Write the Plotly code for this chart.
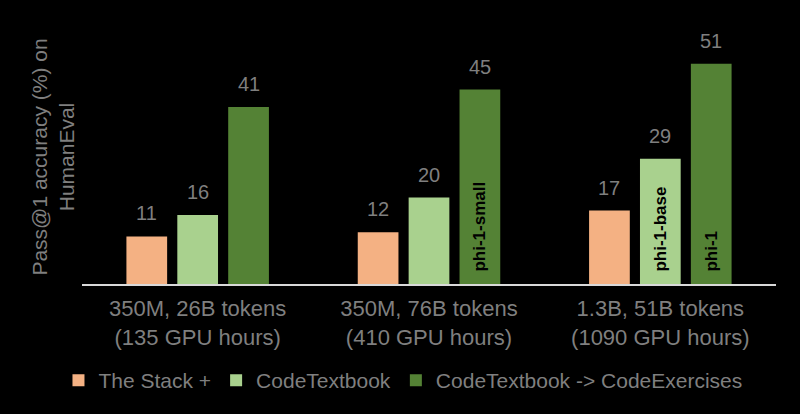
import plotly.graph_objects as go

# groups: model size / tokens (GPU hours)
groups = [
    "350M, 26B tokens<br>(135 GPU hours)",
    "350M, 76B tokens<br>(410 GPU hours)",
    "1.3B, 51B tokens<br>(1090 GPU hours)",
]
series_names = ["The Stack +", "CodeTextbook", "CodeTextbook -> CodeExercises"]
stack_vals = [11, 12, 17]
textbook_vals = [16, 20, 29]
exercises_vals = [41, 45, 51]
textbook_tags = ["", "", "phi-1-base"]
exercises_tags = ["", "phi-1-small", "phi-1"]

colors = ["#F4B183", "#A9D18E", "#548235"]
grey = "#7F7F7F"
font = "Liberation Sans, Arial, sans-serif"
bargap = 0.34

fig = go.Figure()
all_vals = [stack_vals, textbook_vals, exercises_vals]
all_tags = [["", "", ""], textbook_tags, exercises_tags]
for name, vals, tags, col in zip(series_names, all_vals, all_tags, colors):
    fig.add_trace(go.Bar(
        name=name, x=groups, y=vals, marker_color=col, marker_line_width=0,
        # leading nbsp pushes the rotated tag up off the axis
        text=["\u00a0\u00a0" + t if t else "" for t in tags],
        textposition="inside", insidetextanchor="start", textangle=-90,
        textfont=dict(family=font, size=17, color="black", weight="bold"),
        constraintext="none", hoverinfo="skip",
    ))

# value labels above each bar
slot = (1 - bargap) / 3
for j, vals in enumerate(all_vals):
    for i, v in enumerate(vals):
        fig.add_annotation(x=i + (j - 1) * slot, y=v, text=str(v), showarrow=False,
                           yanchor="bottom", yshift=10,
                           font=dict(family=font, size=20, color=grey))

fig.update_layout(
    width=800, height=414,
    paper_bgcolor="black", plot_bgcolor="black",
    barmode="group", bargap=bargap, bargroupgap=0.2,
    margin=dict(l=82, r=24, t=30, b=130, autoexpand=False),
    font=dict(family=font, color=grey, size=21),
    legend=dict(orientation="h", x=0.4625, xanchor="center",
                y=-0.38, yanchor="middle", font=dict(size=21, color=grey),
                itemwidth=30, traceorder="normal"),
)
fig.update_xaxes(showline=True, linecolor="#D9D9D9", linewidth=1.5, ticks="",
                 tickangle=0, automargin=False, ticklabelstandoff=4,
                 showgrid=False, tickfont=dict(size=22, color=grey))
fig.update_yaxes(range=[0, 58.8], showgrid=False, zeroline=False, showticklabels=False,
                 automargin=False,
                 title=dict(text="Pass@1 accuracy (%) on<br>HumanEval", standoff=0,
                            font=dict(size=21, color=grey)))

# drop the page's default body margin so the black figure fills the window
fig.write_html("out.html", config={"displayModeBar": False},
               post_script="document.body.style.margin='0';document.body.style.background='black';")
